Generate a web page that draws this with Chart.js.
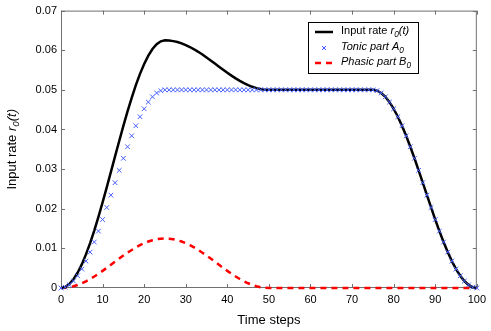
<!DOCTYPE html>
<html>
<head>
<meta charset="utf-8">
<script src="https://cdn.jsdelivr.net/npm/chart.js@4.4.1/dist/chart.umd.min.js"></script>
<style>
  html, body { margin: 0; padding: 0; background: #fff; }
  #wrap { width: 491px; height: 331px; }
</style>
</head>
<body>
<div id="wrap"><canvas id="rateChart" width="491" height="331"></canvas></div>
<script>
// time steps 0..100
const steps = Array.from({ length: 101 }, (_, i) => i);

const tonicPart = [
  0, 0.0002, 0.00079, 0.00176, 0.00309, 0.00477, 0.00678, 0.00906, 0.0116, 0.01436,
  0.01727, 0.02032, 0.02343, 0.02657, 0.02968, 0.03273, 0.03564, 0.0384, 0.04094, 0.04322,
  0.04523, 0.04691, 0.04824, 0.04921, 0.0498, 0.05, 0.05, 0.05, 0.05, 0.05,
  0.05, 0.05, 0.05, 0.05, 0.05, 0.05, 0.05, 0.05, 0.05, 0.05,
  0.05, 0.05, 0.05, 0.05, 0.05, 0.05, 0.05, 0.05, 0.05, 0.05,
  0.05, 0.05, 0.05, 0.05, 0.05, 0.05, 0.05, 0.05, 0.05, 0.05,
  0.05, 0.05, 0.05, 0.05, 0.05, 0.05, 0.05, 0.05, 0.05, 0.05,
  0.05, 0.05, 0.05, 0.05, 0.05, 0.05, 0.0498, 0.04921, 0.04824, 0.04691,
  0.04523, 0.04322, 0.04094, 0.0384, 0.03564, 0.03273, 0.02968, 0.02657, 0.02343, 0.02032,
  0.01727, 0.01436, 0.0116, 0.00906, 0.00678, 0.00477, 0.00309, 0.00176, 0.00079, 0.0002,
  0
];

const phasicPart = [
  0, 0.00005, 0.0002, 0.00044, 0.00077, 0.00119, 0.0017, 0.00227, 0.0029, 0.00359,
  0.00432, 0.00508, 0.00586, 0.00664, 0.00742, 0.00818, 0.00891, 0.0096, 0.01024, 0.01081,
  0.01131, 0.01173, 0.01206, 0.0123, 0.01245, 0.0125, 0.01245, 0.0123, 0.01206, 0.01173,
  0.01131, 0.01081, 0.01024, 0.0096, 0.00891, 0.00818, 0.00742, 0.00664, 0.00586, 0.00508,
  0.00432, 0.00359, 0.0029, 0.00227, 0.0017, 0.00119, 0.00077, 0.00044, 0.0002, 0.00005,
  0, 0, 0, 0, 0, 0, 0, 0, 0, 0,
  0, 0, 0, 0, 0, 0, 0, 0, 0, 0,
  0, 0, 0, 0, 0, 0, 0, 0, 0, 0,
  0, 0, 0, 0, 0, 0, 0, 0, 0, 0,
  0, 0, 0, 0, 0, 0, 0, 0, 0, 0,
  0
];

const inputRate = [
  0, 0.00025, 0.00099, 0.0022, 0.00386, 0.00596, 0.00848, 0.01133, 0.0145, 0.01795,
  0.02159, 0.0254, 0.02929, 0.03321, 0.0371, 0.04091, 0.04455, 0.048, 0.05118, 0.05403,
  0.05654, 0.05864, 0.0603, 0.06151, 0.06225, 0.0625, 0.06245, 0.0623, 0.06206, 0.06173,
  0.06131, 0.06081, 0.06024, 0.0596, 0.05891, 0.05818, 0.05742, 0.05664, 0.05586, 0.05508,
  0.05432, 0.05359, 0.0529, 0.05227, 0.0517, 0.05119, 0.05077, 0.05044, 0.0502, 0.05005,
  0.05, 0.05, 0.05, 0.05, 0.05, 0.05, 0.05, 0.05, 0.05, 0.05,
  0.05, 0.05, 0.05, 0.05, 0.05, 0.05, 0.05, 0.05, 0.05, 0.05,
  0.05, 0.05, 0.05, 0.05, 0.05, 0.05, 0.0498, 0.04921, 0.04824, 0.04691,
  0.04523, 0.04322, 0.04094, 0.0384, 0.03564, 0.03273, 0.02968, 0.02657, 0.02343, 0.02032,
  0.01727, 0.01436, 0.0116, 0.00906, 0.00678, 0.00477, 0.00309, 0.00176, 0.00079, 0.0002,
  0
];

const xTicks = [0, 10, 20, 30, 40, 50, 60, 70, 80, 90, 100];
const yTicks = [0, 0.01, 0.02, 0.03, 0.04, 0.05, 0.06, 0.07];

const FONT = '"Liberation Sans", Arial, Helvetica, sans-serif';
const BLUE = 'rgb(70, 95, 255)';

function toPoints(arr) {
  return steps.map((t, i) => ({ x: t, y: arr[i] }));
}

// draw text runs with italic / subscript parts, starting at x
function drawRuns(ctx, runs, x, y, size) {
  runs.forEach(r => {
    const fs = r.sub ? size * 0.75 : size;
    ctx.font = (r.italic ? 'italic ' : '') + fs + 'px ' + FONT;
    ctx.fillText(r.t, x, r.sub ? y + size * 0.35 : y);
    x += ctx.measureText(r.t).width;
  });
  return x;
}
function runsWidth(ctx, runs, size) {
  let w = 0;
  runs.forEach(r => {
    const fs = r.sub ? size * 0.75 : size;
    ctx.font = (r.italic ? 'italic ' : '') + fs + 'px ' + FONT;
    w += ctx.measureText(r.t).width;
  });
  return w;
}

const frameTicks = {
  id: 'frameTicks',
  beforeDatasetsDraw(chart) {
    const { ctx, chartArea: a, scales } = chart;
    ctx.save();
    ctx.strokeStyle = '#707070';
    ctx.lineWidth = 1;
    ctx.strokeRect(a.left + 0.5, a.top + 0.5, a.right - a.left - 1, a.bottom - a.top - 1);
    ctx.beginPath();
    xTicks.forEach(v => {
      const px = Math.round(scales.x.getPixelForValue(v)) + 0.5;
      ctx.moveTo(px, a.bottom); ctx.lineTo(px, a.bottom - 4);
      ctx.moveTo(px, a.top); ctx.lineTo(px, a.top + 4);
    });
    yTicks.forEach(v => {
      const py = Math.round(scales.y.getPixelForValue(v)) + 0.5;
      ctx.moveTo(a.left, py); ctx.lineTo(a.left + 4, py);
      ctx.moveTo(a.right, py); ctx.lineTo(a.right - 4, py);
    });
    ctx.stroke();
    ctx.restore();
  },
  afterDraw(chart) {
    const { ctx, chartArea: a } = chart;
    ctx.save();
    // y axis title
    const yRuns = [{ t: 'Input rate ' }, { t: 'r', italic: true }, { t: '0', italic: true, sub: true }, { t: '(t)', italic: true }];
    ctx.fillStyle = '#000';
    ctx.textBaseline = 'middle';
    ctx.translate(12, (a.top + a.bottom) / 2);
    ctx.rotate(-Math.PI / 2);
    const w = runsWidth(ctx, yRuns, 13);
    drawRuns(ctx, yRuns, -w / 2, 0, 13);
    ctx.restore();

    // legend
    ctx.save();
    const bx = 308, by = 22, bw = 110, bh = 51;
    ctx.fillStyle = '#fff';
    ctx.fillRect(bx, by, bw, bh);
    ctx.strokeStyle = '#000';
    ctx.lineWidth = 1;
    ctx.strokeRect(bx + 0.5, by + 0.5, bw, bh);
    const rows = [32, 48, 63];
    // line sample
    ctx.strokeStyle = '#000';
    ctx.lineWidth = 2.5;
    ctx.beginPath(); ctx.moveTo(315, rows[0]); ctx.lineTo(333, rows[0]); ctx.stroke();
    // cross marker
    ctx.strokeStyle = BLUE;
    ctx.lineWidth = 1;
    ctx.beginPath();
    ctx.moveTo(322, rows[1] - 2); ctx.lineTo(326, rows[1] + 2);
    ctx.moveTo(322, rows[1] + 2); ctx.lineTo(326, rows[1] - 2);
    ctx.stroke();
    // dashed sample
    ctx.strokeStyle = '#ff0000';
    ctx.lineWidth = 2.5;
    ctx.setLineDash([6, 5]);
    ctx.beginPath(); ctx.moveTo(315, rows[2]); ctx.lineTo(334, rows[2]); ctx.stroke();
    ctx.setLineDash([]);
    ctx.fillStyle = '#000';
    ctx.textBaseline = 'middle';
    drawRuns(ctx, [{ t: 'Input rate ' }, { t: 'r', italic: true }, { t: '0', italic: true, sub: true }, { t: '(t)', italic: true }], 341, rows[0] - 1, 11);
    drawRuns(ctx, [{ t: 'Tonic part A', italic: true }, { t: '0', italic: true, sub: true }], 341, rows[1] - 1, 11);
    drawRuns(ctx, [{ t: 'Phasic part B', italic: true }, { t: '0', italic: true, sub: true }], 341, rows[2] - 1, 11);
    ctx.restore();
  }
};

window.addEventListener('load', () => {
  const ctx = document.getElementById('rateChart').getContext('2d');
  const rateChart = new Chart(ctx, {
    type: 'line',
    data: {
      datasets: [{
        label: 'Tonic part A0',
        data: toPoints(tonicPart),
        showLine: false,
        pointStyle: 'crossRot',
        pointRadius: 3.3,
        pointBorderWidth: 1,
        pointBorderColor: BLUE,
        pointBackgroundColor: BLUE,
        borderColor: BLUE,
        order: 0,
        clip: 6
      }, {
        label: 'Input rate r0(t)',
        data: toPoints(inputRate),
        borderColor: '#000',
        borderWidth: 2.5,
        pointRadius: 0,
        tension: 0,
        order: 1,
        clip: 6
      }, {
        label: 'Phasic part B0',
        data: toPoints(phasicPart),
        borderColor: '#ff0000',
        borderWidth: 2.5,
        borderDash: [6, 5],
        pointRadius: 0,
        tension: 0,
        order: 2,
        clip: 6
      }]
    },
    options: {
      responsive: false,
      animation: false,
      devicePixelRatio: 1,
      layout: { padding: { top: 10, right: 13, left: 0, bottom: 0 } },
      plugins: {
        legend: { display: false },
        tooltip: { enabled: false }
      },
      scales: {
        x: {
          type: 'linear',
          min: 0,
          max: 100,
          afterBuildTicks: (scale) => { scale.ticks = xTicks.map(v => ({ value: v })); },
          afterFit: (scale) => { scale.height = 43; },
          grid: { display: false, drawTicks: false },
          border: { display: false },
          ticks: { color: '#000', padding: 5, maxRotation: 0, font: { family: FONT, size: 11 } },
          title: {
            display: true,
            text: 'Time steps',
            color: '#000',
            padding: { top: 0, bottom: 3 },
            font: { family: FONT, size: 13 }
          }
        },
        y: {
          min: 0,
          max: 0.07,
          afterBuildTicks: (scale) => { scale.ticks = yTicks.map(v => ({ value: v })); },
          afterFit: (scale) => { scale.width = 61; },
          grid: { display: false, drawTicks: false },
          border: { display: false },
          ticks: {
            color: '#000',
            padding: 4,
            font: { family: FONT, size: 11 },
            callback: (v) => v === 0 ? '0' : v.toFixed(2)
          }
        }
      }
    },
    plugins: [frameTicks]
  });
});
</script>
</body>
</html>
